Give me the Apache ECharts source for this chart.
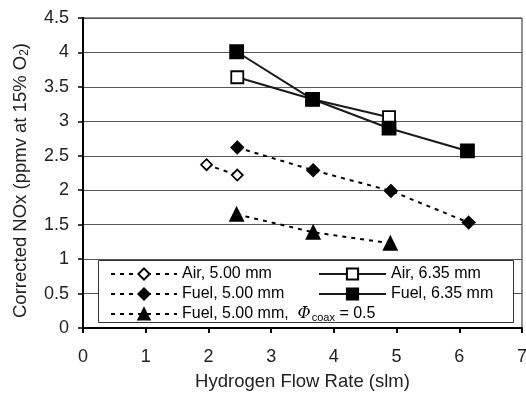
<!DOCTYPE html>
<html><head><meta charset="utf-8">
<script src="https://cdn.jsdelivr.net/npm/echarts@6/dist/echarts.min.js"></script>
<style>html,body{margin:0;padding:0;background:#fff}#c{width:526px;height:393px}</style>
</head><body><div id="c"></div>
<script>
var xTicks = [0, 1, 2, 3, 4, 5, 6, 7];
var yTicks = [0, 0.5, 1, 1.5, 2, 2.5, 3, 3.5, 4, 4.5];
var air500 = [[1.97, 2.37], [2.46, 2.22]];
var air635 = [[2.46, 3.64], [3.66, 3.32], [4.88, 3.06]];
var fuel500 = [[2.46, 2.62], [3.67, 2.29], [4.91, 1.99], [6.15, 1.53]];
var fuel635 = [[2.45, 4.01], [3.66, 3.32], [4.88, 2.90], [6.13, 2.57]];
var fuelPhi = [[2.45, 1.65], [3.67, 1.39], [4.90, 1.23]];
var names = ['Air, 5.00 mm', 'Air, 6.35 mm', 'Fuel, 5.00 mm', 'Fuel, 6.35 mm', 'Fuel, 5.00 mm,  Φcoax = 0.5'];
var yTitle = '{t|Corrected NOx (ppmv at 15% O}{s|2}{t|)}';

var chart = echarts.init(document.getElementById('c'), null, {renderer: 'canvas'});
var font = 'Liberation Sans, Arial, sans-serif';
var dashed = {color: '#000', width: 2, type: [4, 5]};
var solid = {color: '#1a1a1a', width: 2, type: 'solid'};
function mk(name, data, sym, size, fill, ls) {
  return {
    name: name, type: 'line', data: data, symbol: sym, symbolSize: size,
    showAllSymbol: true, animation: false, z: 5,
    lineStyle: ls,
    itemStyle: {color: fill, borderColor: '#000', borderWidth: 1.8}
  };
}
var rich = {
  t: {fontSize: 16, fontFamily: font, color: '#000', lineHeight: 18},
  i: {fontSize: 16, fontFamily: 'DejaVu Serif, serif', fontStyle: 'italic', color: '#000', lineHeight: 18},
  s: {fontSize: 11, fontFamily: font, color: '#000', verticalAlign: 'bottom', lineHeight: 18, padding: [6, 0, 0, 1]}
};
function fmt(n) {
  if (n === names[4]) return '{t|Fuel, 5.00 mm,  }{i|Φ}{s|coax}{t| = 0.5}';
  return '{t|' + n + '}';
}
chart.setOption({
  animation: false,
  grid: {left: 83, right: 4, top: 18, bottom: 65, show: true, borderColor: '#222', borderWidth: 1,
         containLabel: false, outerBoundsMode: 'none'},
  xAxis: {
    type: 'value', min: xTicks[0], max: xTicks[xTicks.length - 1], interval: 1,
    name: 'Hydrogen Flow Rate (slm)', nameLocation: 'middle', nameGap: 44,
    nameTextStyle: {fontSize: 18.5, fontFamily: font, color: '#222'},
    axisLine: {lineStyle: {color: '#000', width: 2}},
    axisTick: {show: true, length: 5, lineStyle: {color: '#000', width: 2}},
    axisLabel: {fontSize: 18, fontFamily: font, color: '#222', margin: 20},
    splitLine: {show: false}
  },
  yAxis: {
    type: 'value', min: yTicks[0], max: yTicks[yTicks.length - 1], interval: 0.5,
    axisLine: {show: true, lineStyle: {color: '#000', width: 2}},
    axisTick: {show: true, length: 5, lineStyle: {color: '#000', width: 1.5}},
    axisLabel: {fontSize: 18, fontFamily: font, color: '#222', margin: 14},
    splitLine: {show: true, lineStyle: {color: '#555', width: 1}}
  },
  graphic: [{
    type: 'rect', z: 3, shape: {x: 98.5, y: 260.5, width: 415, height: 62},
    style: {fill: '#fff', stroke: '#333', lineWidth: 1}
  }, {
    type: 'text', x: 21, y: 180.5, rotation: Math.PI / 2, z: 10,
    style: {
      text: yTitle, align: 'center', verticalAlign: 'middle',
      rich: {
        t: {fontSize: 18.5, fontFamily: font, fill: '#222'},
        s: {fontSize: 12, fontFamily: font, fill: '#222', verticalAlign: 'bottom', padding: [8, 0, 0, 0]}
      }
    }
  }],
  legend: [{
    data: [names[0], names[2], names[4]], orient: 'vertical', left: 110, top: 266, padding: 0,
    itemWidth: 66, itemHeight: 14, itemGap: 4, z: 6, formatter: fmt,
    textStyle: {rich: rich, fontSize: 16, color: '#000'}, selectedMode: false
  }, {
    data: [names[1], names[3]], orient: 'vertical', left: 318, top: 266, padding: 0,
    itemWidth: 67, itemHeight: 14, itemGap: 4, z: 6, formatter: fmt,
    textStyle: {rich: rich, fontSize: 16, color: '#000'}, selectedMode: false
  }],
  series: [
    mk(names[0], air500, 'diamond', 11, '#fff', dashed),
    mk(names[1], air635, 'rect', 12, '#fff', solid),
    mk(names[2], fuel500, 'diamond', 12, '#000', dashed),
    mk(names[3], fuel635, 'rect', 13, '#000', solid),
    mk(names[4], fuelPhi, 'triangle', 13, '#000', dashed)
  ]
});
</script></body></html>
